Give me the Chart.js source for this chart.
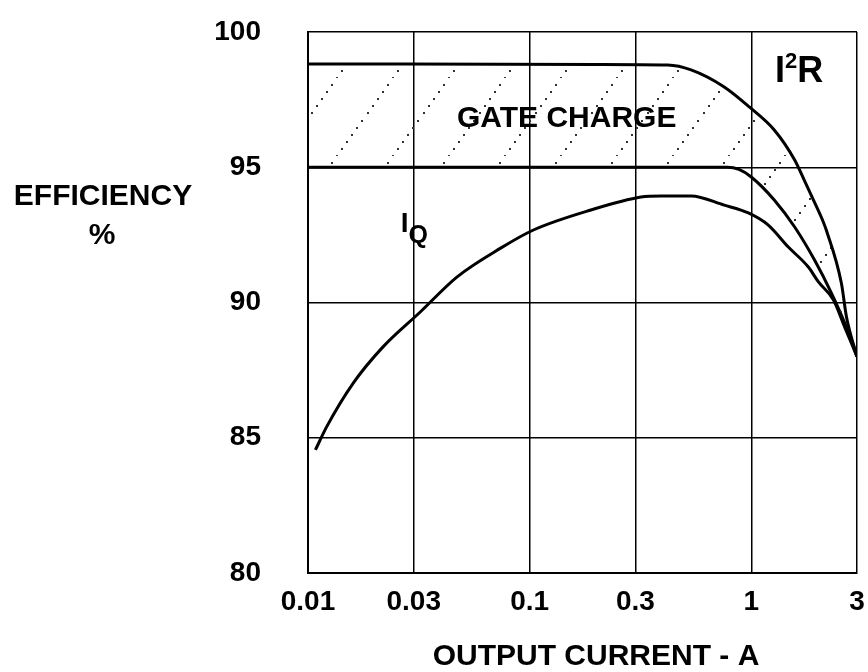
<!DOCTYPE html>
<html>
<head>
<meta charset="utf-8">
<script src="https://cdn.jsdelivr.net/npm/chart.js@4"></script>
<style>
  html, body { margin: 0; padding: 0; background: #fff; }
  #wrap { width: 868px; height: 672px; }
</style>
</head>
<body>
<div id="wrap"><canvas id="myChart" width="868" height="672"></canvas></div>
<script>
// tick values
const xTicks = [0.01, 0.03, 0.1, 0.3, 1, 3];
const yTicks = [80, 85, 90, 95, 100];

// I2R curve (top edge of the gate charge band)
const topX = [0.01, 0.2, 0.42, 0.535, 0.755, 0.98, 1.27, 1.57, 1.74, 1.93, 2.12, 2.18, 2.55, 2.69, 3];
const topEff = [98.82, 98.8, 98.78, 98.6, 97.97, 97.23, 96.38, 95.27, 94.5, 93.7, 92.95, 92.68, 90.72, 89.46, 88.0];

// gate charge curve (bottom edge of the band)
const midX = [0.01, 0.3, 0.78, 0.88, 1.0, 1.27, 1.57, 1.93, 2.3, 2.64, 3];
const midEff = [95.0, 95.0, 95.0, 94.92, 94.64, 93.79, 92.79, 91.57, 90.35, 89.24, 88.0];

// IQ curve
const iqX = [0.0108, 0.01215, 0.016, 0.0218, 0.0321, 0.0471, 0.074, 0.104, 0.189, 0.318, 0.392, 0.535, 0.755, 0.97, 1.19, 1.47, 1.81, 2.01, 2.35, 2.64, 3];
const iqEff = [84.55, 85.41, 87.02, 88.36, 89.65, 90.95, 92.01, 92.68, 93.42, 93.9, 93.94, 93.94, 93.6, 93.31, 92.87, 92.05, 91.31, 90.76, 90.09, 89.09, 88.0];

const FONT = '"Liberation Sans", Arial, sans-serif';

function pts(xs, ys) {
  return xs.map((v, i) => ({ x: v, y: ys[i] }));
}

// dotted diagonal hatch for the gate charge band
function hatch() {
  const w = 56, h = 78;
  const c = document.createElement("canvas");
  c.width = w; c.height = h;
  const g = c.getContext("2d");
  g.fillStyle = "#333";
  const n = 11;
  for (let i = 0; i < n; i++) {
    const t = i / n;
    g.fillRect(Math.round(t * w), Math.round(h - t * h) - 1, 2, 2);
  }
  return g.createPattern(c, "repeat");
}

const notes = {
  id: "notes",
  afterDatasetsDraw(chart) {
    const { ctx, scales: { x, y } } = chart;
    ctx.save();
    ctx.fillStyle = "#000";

    ctx.textAlign = "center";
    ctx.textBaseline = "middle";
    ctx.font = "bold 30px " + FONT;
    ctx.fillText("GATE CHARGE", x.getPixelForValue(0.147), y.getPixelForValue(96.78));

    // axis titles
    ctx.fillText("EFFICIENCY", 103, 197);
    ctx.fillText("%", 102, 236);
    ctx.fillText("OUTPUT CURRENT - A", 596, 657);

    // I²R
    ctx.textAlign = "left";
    ctx.textBaseline = "alphabetic";
    let px = x.getPixelForValue(1.28);
    const py = y.getPixelForValue(98.15);
    ctx.font = "bold 36px " + FONT;
    ctx.fillText("I", px, py);
    px += ctx.measureText("I").width;
    ctx.font = "bold 22px " + FONT;
    ctx.fillText("2", px, py - 14);
    px += ctx.measureText("2").width;
    ctx.font = "bold 36px " + FONT;
    ctx.fillText("R", px, py);

    // IQ
    let qx = x.getPixelForValue(0.0262);
    const qy = y.getPixelForValue(92.61);
    ctx.font = "bold 28px " + FONT;
    ctx.fillText("I", qx, qy);
    qx += ctx.measureText("I").width;
    ctx.font = "bold 25px " + FONT;
    ctx.fillText("Q", qx, qy + 11);

    ctx.restore();
  }
};

const ctx = document.getElementById("myChart").getContext("2d");

new Chart(ctx, {
  type: "line",
  data: {
    datasets: [
      {
        label: "I2R",
        data: pts(topX, topEff),
        borderColor: "#000",
        borderWidth: 3,
        backgroundColor: hatch(),
        fill: "+1",
        pointRadius: 0,
        cubicInterpolationMode: "monotone",
      },
      {
        label: "Gate charge",
        data: pts(midX, midEff),
        borderColor: "#000",
        borderWidth: 3,
        fill: false,
        pointRadius: 0,
        cubicInterpolationMode: "monotone",
      },
      {
        label: "IQ",
        data: pts(iqX, iqEff),
        borderColor: "#000",
        borderWidth: 3,
        fill: false,
        pointRadius: 0,
        cubicInterpolationMode: "monotone",
      },
    ],
  },
  options: {
    responsive: false,
    animation: false,
    layout: { padding: { left: 0, right: 11, top: 32, bottom: 0 } },
    plugins: {
      legend: { display: false },
      tooltip: { enabled: false },
    },
    scales: {
      x: {
        type: "logarithmic",
        min: 0.01,
        max: 3,
        afterBuildTicks: (s) => { s.ticks = xTicks.map((v) => ({ value: v })); },
        afterFit: (s) => { s.height = 99; s.paddingLeft = 0; s.paddingRight = 0; },
        ticks: {
          color: "#000",
          padding: 12,
          maxRotation: 0,
          font: { size: 28, weight: "bold", family: FONT },
          callback: (v) => String(v),
        },
        grid: { color: "#000", lineWidth: 1.5, drawTicks: false },
        border: { color: "#000", width: 2 },
      },
      y: {
        min: 80,
        max: 100,
        afterBuildTicks: (s) => { s.ticks = yTicks.map((v) => ({ value: v })); },
        afterFit: (s) => { s.width = 308; s.paddingTop = 0; s.paddingBottom = 0; },
        ticks: {
          color: "#000",
          padding: 47,
          font: { size: 28, weight: "bold", family: FONT },
        },
        grid: { color: "#000", lineWidth: 1.5, drawTicks: false },
        border: { color: "#000", width: 2 },
      },
    },
  },
  plugins: [notes],
});
</script>
</body>
</html>
